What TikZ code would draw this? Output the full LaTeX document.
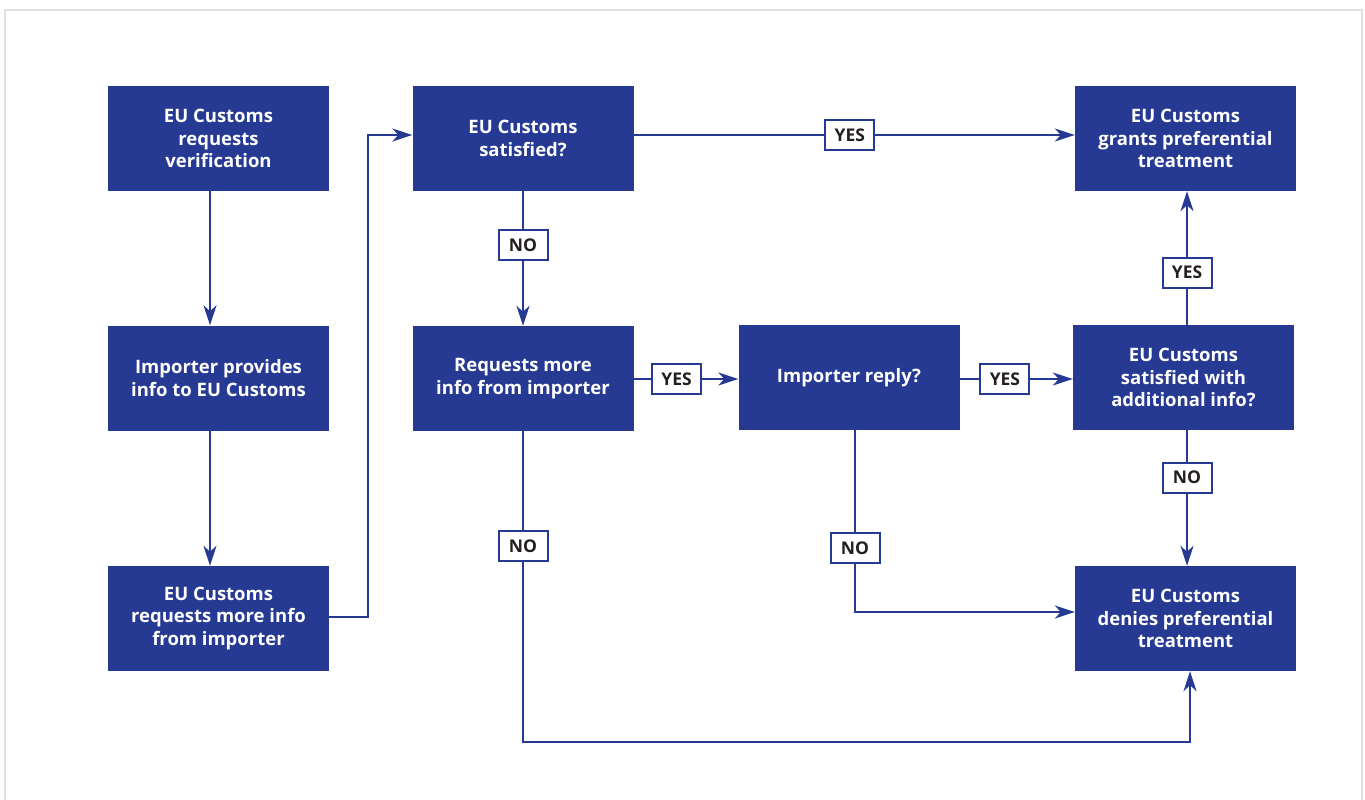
\documentclass[tikz,border=0pt]{standalone}
\usepackage{fontspec}
\setmainfont{Open Sans}
\usetikzlibrary{arrows.meta}
\definecolor{eublue}{RGB}{38,58,147}
\definecolor{labtext}{RGB}{35,31,32}

\begin{document}
\begin{tikzpicture}[x=1pt,y=-1pt,
    box/.style={fill=eublue, text=white, minimum width=221pt, minimum height=105pt,
      align=center, font=\fontsize{18.5}{22.5}\selectfont\bfseries, inner sep=0pt},
    lab/.style={draw=eublue, line width=2pt, fill=white, text=labtext,
      minimum width=49pt, minimum height=30pt, inner sep=0pt,
      font=\fontsize{17.5}{20}\selectfont\bfseries},
    link/.style={draw=eublue, line width=2pt},
    arr/.style={link, -{Stealth[length=20pt,width=13pt,inset=6pt]}}]
  \useasboundingbox (0,0) rectangle (1365,800);
  \draw[color=black!12, line width=2.5pt] (5,805) -- (5,10) -- (1362,10) -- (1362,805);

  % boxes
  \node[box] (req)  at (218.5,138.5) {EU Customs\\requests\\verification};
  \node[box] (prov) at (218.5,378)   {Importer provides\\info to EU Customs};
  \node[box] (more) at (218.5,618.5) {EU Customs\\requests more info\\from importer};
  \node[box] (sat)  at (523,138.5)   {EU Customs\\satisfied?};
  \node[box] (ask)  at (523,378.5)   {Requests more\\info from importer};
  \node[box] (rep)  at (849,377.5)   {Importer reply?};
  \node[box] (sat2) at (1183.5,377.5) {EU Customs\\satisfied with\\additional info?};
  \node[box] (gra)  at (1185.5,138.5) {EU Customs\\grants preferential\\treatment};
  \node[box] (den)  at (1185.5,618.5) {EU Customs\\denies preferential\\treatment};

  % connectors
  \draw[arr] (req.south -| 210,0) -- (prov.north -| 210,0);
  \draw[arr] (prov.south -| 210,0) -- (more.north -| 210,0);
  \draw[arr] (more.east |- 0,617) -- (368,617) -- (368,135) -- (sat.west |- 0,135);
  \draw[arr] (sat.east |- 0,135) -- node[lab, pos=0.49] {YES} (gra.west |- 0,135);
  \draw[arr] (sat.south) -- node[lab, pos=0.4] {NO} (ask.north);
  \draw[arr] (ask.east |- 0,379) -- node[lab, pos=0.41] {YES} (rep.west |- 0,379);
  \draw[arr] (rep.east |- 0,379) -- node[lab, pos=0.4] {YES} (sat2.west |- 0,379);
  \draw[arr] (sat2.north -| 1187,0) -- node[lab, pos=0.39] {YES} (gra.south -| 1187,0);
  \draw[arr] (sat2.south -| 1187,0) -- node[lab, pos=0.35] {NO} (den.north -| 1187,0);
  \draw[arr] (rep.south -| 855,0) -- node[lab, pos=0.65] {NO} (855,612) -- (den.west |- 0,612);
  \draw[arr] (ask.south) -- node[lab, pos=0.37] {NO} (523,742) -- (1190,742) -- (den.south -| 1190,0);
\end{tikzpicture}
\end{document}
